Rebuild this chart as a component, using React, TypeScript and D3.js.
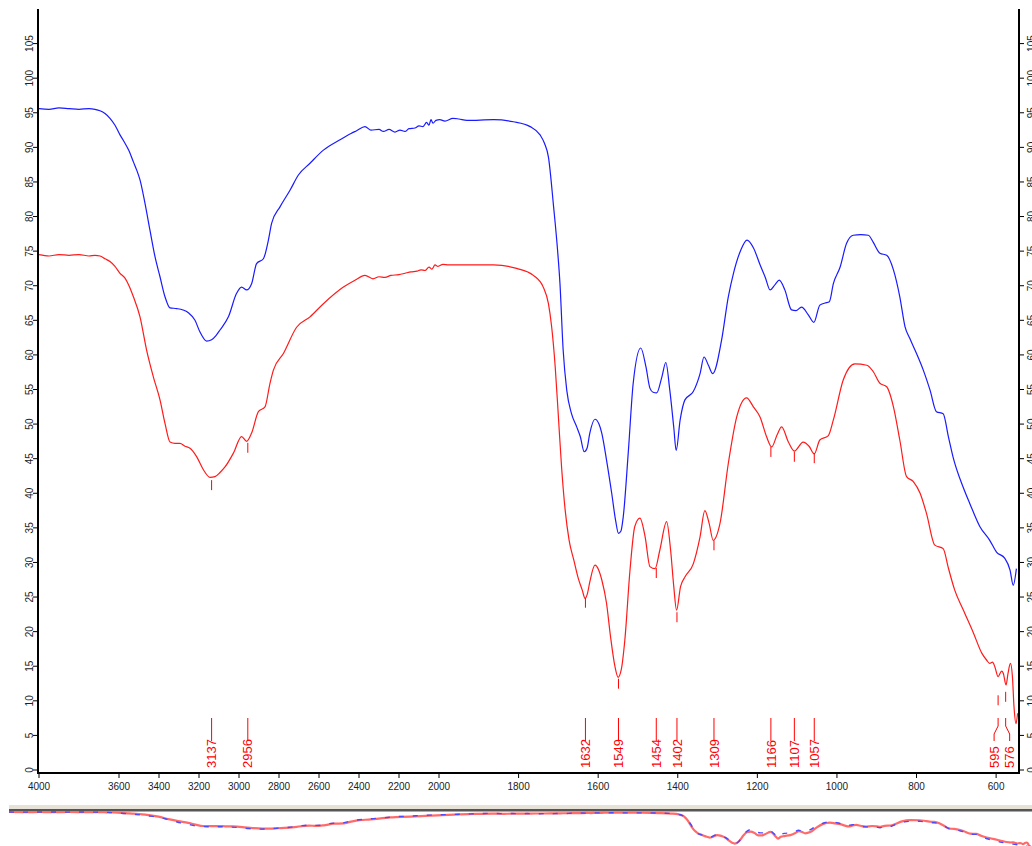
import React from 'react';
import * as d3 from 'd3';

// ---- data (wavenumber cm-1, %T) ----
const blueSeries: [number, number][] = [
  [4000, 95.6], [3950, 95.5], [3900, 95.7], [3850, 95.6], [3800, 95.5], [3750, 95.6], [3720, 95.5],
  [3695, 95.3], [3670, 94.9], [3645, 94.2], [3620, 93.2], [3595, 91.8], [3578, 91.0], [3550, 89.5],
  [3528, 87.9], [3510, 86.6], [3495, 85.3], [3470, 81.9], [3445, 78.0], [3420, 74.2], [3395, 71.3],
  [3370, 68.4], [3345, 66.8], [3312, 66.7], [3280, 66.5], [3253, 66.1], [3220, 65.0], [3195, 63.3],
  [3162, 62.0], [3137, 62.2], [3115, 62.8], [3095, 63.6], [3053, 65.5], [3012, 68.9], [2987, 69.8],
  [2962, 69.4], [2937, 70.3], [2912, 73.2], [2878, 73.9], [2853, 76.6], [2837, 79.0], [2795, 81.4],
  [2745, 83.8], [2703, 86.0], [2645, 87.7], [2578, 89.6], [2495, 91.1], [2440, 92.0], [2412, 92.4],
  [2370, 93.0], [2340, 92.5], [2300, 92.6], [2278, 92.3], [2250, 92.6], [2220, 92.2], [2195, 92.5],
  [2170, 92.3], [2150, 92.7], [2120, 92.8], [2100, 93.1], [2080, 93.0], [2062, 93.6], [2050, 93.2],
  [2040, 94.0], [2030, 93.5], [2015, 93.9], [1998, 94.0], [1985, 93.8], [1965, 94.2], [1950, 94.1],
  [1930, 93.9], [1863, 94.0], [1813, 93.7], [1771, 93.0], [1746, 91.8], [1735, 90.6], [1725, 88.6],
  [1712, 81.4], [1702, 75.1], [1696, 70.3], [1688, 60.7], [1679, 54.9], [1667, 51.5], [1654, 49.6],
  [1645, 48.2], [1635, 46.0], [1628, 46.5], [1621, 48.7], [1608, 50.7], [1598, 50.0], [1591, 48.7],
  [1579, 44.8], [1566, 40.0], [1556, 36.0], [1549, 34.2], [1543, 34.5], [1537, 36.6], [1524, 46.2],
  [1512, 55.9], [1493, 61.0], [1480, 58.3], [1470, 55.2], [1462, 54.6], [1453, 54.5], [1440, 56.8],
  [1430, 58.9], [1420, 54.9], [1410, 49.5], [1404, 46.2], [1394, 50.6], [1382, 53.5], [1361, 54.7],
  [1344, 57.3], [1334, 59.7], [1323, 58.5], [1312, 57.3], [1290, 62.1], [1273, 68.4], [1260, 71.8],
  [1242, 75.1], [1226, 76.6], [1210, 75.5], [1193, 73.0], [1180, 71.2], [1168, 69.4], [1155, 70.2],
  [1145, 70.8], [1131, 69.4], [1114, 66.5], [1103, 66.4], [1089, 66.9], [1072, 65.8], [1058, 64.7],
  [1043, 67.2], [1030, 67.5], [1019, 67.7], [1009, 70.3], [992, 72.7], [976, 76.1], [959, 77.3],
  [940, 77.4], [921, 77.3], [909, 76.3], [892, 74.7], [875, 74.4], [858, 72.3], [842, 68.4],
  [829, 64.1], [817, 62.4], [800, 60.2], [783, 57.8], [766, 54.9], [750, 51.8], [733, 51.5],
  [720, 48.2], [708, 45.2], [683, 40.9], [666, 38.5], [641, 35.2], [616, 33.2], [599, 31.5],
  [578, 30.6], [565, 28.9], [557, 26.7], [549, 29.1],
];

const redSeries: [number, number][] = [
  [4000, 74.5], [3950, 74.3], [3900, 74.5], [3850, 74.4], [3800, 74.5], [3750, 74.3], [3720, 74.4],
  [3695, 74.3], [3670, 73.9], [3645, 73.5], [3620, 72.8], [3595, 71.8], [3570, 71.1], [3550, 70.0],
  [3528, 68.4], [3495, 65.5], [3462, 60.7], [3428, 56.8], [3395, 53.5], [3370, 50.1], [3345, 47.4],
  [3320, 47.2], [3295, 47.2], [3270, 46.8], [3245, 46.5], [3212, 45.3], [3178, 43.4], [3145, 42.3],
  [3120, 42.4], [3095, 43.0], [3070, 43.8], [3028, 45.8], [2987, 48.2], [2962, 47.5], [2937, 48.7],
  [2903, 51.8], [2870, 52.5], [2845, 55.9], [2828, 57.8], [2778, 60.2], [2712, 64.0], [2645, 65.5],
  [2578, 67.4], [2478, 69.8], [2420, 70.8], [2370, 71.5], [2330, 71.0], [2300, 71.3], [2270, 71.2],
  [2240, 71.5], [2200, 71.6], [2170, 71.8], [2140, 72.0], [2110, 72.1], [2090, 72.3], [2070, 72.2],
  [2050, 72.7], [2035, 72.4], [2020, 73.0], [2005, 72.8], [1990, 73.1], [1976, 73.0], [1930, 73.0],
  [1863, 73.0], [1805, 72.5], [1763, 71.5], [1738, 69.8], [1725, 67.4], [1717, 64.1], [1708, 58.3],
  [1700, 51.1], [1692, 43.8], [1683, 37.6], [1673, 33.2], [1661, 30.3], [1650, 27.7], [1640, 26.0],
  [1633, 24.8], [1627, 25.5], [1621, 27.2], [1608, 29.6], [1598, 28.8], [1591, 27.5], [1579, 24.1],
  [1569, 19.3], [1558, 15.0], [1550, 13.4], [1542, 14.5], [1533, 18.8], [1520, 28.9], [1508, 35.2],
  [1495, 36.4], [1482, 33.7], [1470, 29.4], [1457, 29.1], [1445, 31.8], [1428, 35.9], [1418, 31.8],
  [1410, 26.5], [1403, 23.1], [1393, 26.5], [1382, 27.9], [1361, 29.8], [1344, 33.7], [1332, 37.5],
  [1321, 35.6], [1311, 33.2], [1294, 35.6], [1273, 44.3], [1252, 51.0], [1227, 53.8], [1210, 52.5],
  [1193, 51.0], [1177, 48.2], [1164, 46.7], [1150, 48.5], [1139, 49.6], [1122, 47.4], [1107, 46.1],
  [1085, 47.4], [1070, 46.8], [1057, 45.7], [1043, 47.7], [1022, 48.3], [1009, 50.6], [984, 56.4],
  [955, 58.7], [925, 58.5], [909, 57.6], [892, 55.9], [875, 55.4], [858, 52.5], [842, 47.7],
  [825, 42.4], [808, 41.7], [791, 40.0], [775, 37.1], [754, 32.5], [733, 32.0], [720, 29.2],
  [704, 26.0], [683, 23.2], [657, 19.8], [636, 16.9], [624, 15.9], [616, 15.4], [609, 15.6],
  [603, 14.9], [595, 13.5], [586, 14.3], [582, 14.0], [575, 12.3], [570, 14.0], [564, 15.4],
  [559, 13.5], [555, 9.1], [550, 6.7], [546, 8.2],
];

const xTickValues = [4000, 3600, 3400, 3200, 3000, 2800, 2600, 2400, 2200, 2000, 1800, 1600, 1400, 1200, 1000, 800, 600];
const yTickValues = [0, 5, 10, 15, 20, 25, 30, 35, 40, 45, 50, 55, 60, 65, 70, 75, 80, 85, 90, 95, 100, 105];

const peakWavenumbers = [3137, 2956, 1632, 1549, 1454, 1402, 1309, 1166, 1107, 1057, 595, 576];
const peakMarkTop = [41.9, 47.3, 24.9, 13.2, 29.2, 22.8, 33.2, 46.7, 46.0, 45.8, 10.8, 11.3];
const peakLabelShift = [0, 0, 0, 0, 0, 0, 0, 0, 0, 0, -4, 4];

export default function App() {
  const W = 1032, H = 846;
  const x = d3.scaleLinear().domain([4000, 2000, 545]).range([39, 439, 1018]);
  const y = d3.scaleLinear().domain([0, 110]).range([770, 9]);
  const axisY = 773;
  const leftX = 38;
  const rightX = 1019;

  const line = d3.line<[number, number]>()
    .x((d) => x(d[0]))
    .y((d) => y(d[1]))
    .curve(d3.curveMonotoneX);

  const mx = d3.scaleLinear().domain([4000, 545]).range([9, 1032]);
  const miniLine = (s: [number, number][]) => {
    const ext = d3.extent(s, (d) => d[1]) as [number, number];
    const my = d3.scaleLinear().domain([ext[1], ext[0]]).range([812, 847]);
    return d3.line<[number, number]>().x((d) => mx(d[0])).y((d) => my(d[1])).curve(d3.curveMonotoneX)(s) || '';
  };

  const font = '"Liberation Sans", Arial, sans-serif';

  return (
    <svg width={W} height={H} style={{ position: 'absolute', left: 0, top: 0, background: '#fff' }}>
      <rect x={0} y={0} width={W} height={H} fill="#fff" />
      {/* curves */}
      <path d={line(blueSeries) || ''} fill="none" stroke="#1a1aff" strokeWidth={1.2} />
      <path d={line(redSeries) || ''} fill="none" stroke="#ff1a1a" strokeWidth={1.2} />

      {/* peak annotations */}
      {peakWavenumbers.map((wn, i) => {
        const px = x(wn);
        const lx = px + peakLabelShift[i];
        const mt = y(peakMarkTop[i]);
        const leader = peakLabelShift[i] === 0
          ? `M${px},741 L${px},718`
          : `M${lx},741 L${lx},734 L${px},726 L${px},718`;
        return (
          <g key={wn}>
            <path d={leader} fill="none" stroke="#ff0000" strokeWidth={1} />
            <line x1={px} x2={px} y1={mt} y2={mt + 10} stroke="#ff0000" strokeWidth={1} />
            <text
              x={lx}
              y={768}
              transform={`rotate(-90, ${lx}, 768)`}
              dy="0.36em"
              fontFamily={font}
              fontSize={13}
              fill="#ff0000"
            >
              {wn}
            </text>
          </g>
        );
      })}

      {/* axes */}
      <line x1={leftX} x2={leftX} y1={9} y2={axisY + 1} stroke="#000" strokeWidth={2} />
      <line x1={rightX} x2={rightX} y1={9} y2={axisY + 1} stroke="#000" strokeWidth={2} />
      <line x1={leftX} x2={rightX} y1={axisY} y2={axisY} stroke="#000" strokeWidth={2} />

      {yTickValues.map((v) => (
        <g key={'yl' + v}>
          <line x1={leftX - 5} x2={leftX} y1={y(v)} y2={y(v)} stroke="#000" strokeWidth={1} />
          <text
            x={33}
            y={y(v)}
            transform={`rotate(-90, 33, ${y(v)})`}
            textAnchor="middle"
            fontFamily={font}
            fontSize={10}
            fill="#222"
          >
            {v}
          </text>
          <line x1={rightX} x2={rightX + 5} y1={y(v)} y2={y(v)} stroke="#000" strokeWidth={1} />
          <text
            x={1035}
            y={y(v)}
            transform={`rotate(-90, 1035, ${y(v)})`}
            textAnchor="middle"
            fontFamily={font}
            fontSize={10}
            fill="#222"
          >
            {v}
          </text>
        </g>
      ))}

      {xTickValues.map((v) => (
        <g key={'xl' + v}>
          <line x1={x(v)} x2={x(v)} y1={axisY} y2={axisY + 5} stroke="#000" strokeWidth={1} />
          <text x={x(v)} y={790} textAnchor="middle" fontFamily={font} fontSize={10} fill="#222">
            {v}
          </text>
        </g>
      ))}

      {/* overview panel */}
      <rect x={9} y={805} width={W - 9} height={4} fill="#e6e2d8" />
      <rect x={9} y={809} width={W - 9} height={2.5} fill="#555" />
      <path d={miniLine(redSeries)} fill="none" stroke="#ff6a6a" strokeWidth={2.2} />
      <path d={miniLine(blueSeries)} fill="none" stroke="#4a4aff" strokeWidth={1.4} strokeDasharray="5 9" />
    </svg>
  );
}
